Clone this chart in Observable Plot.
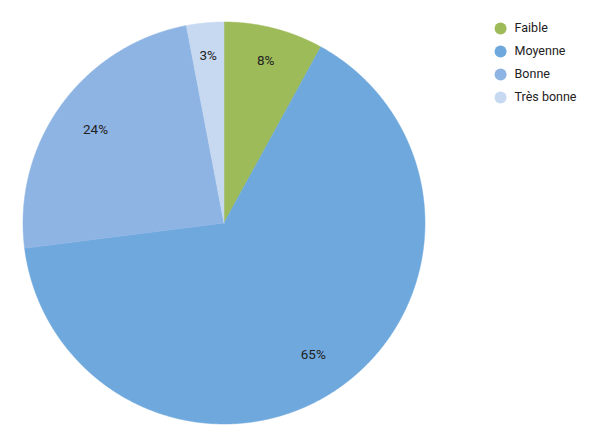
<!DOCTYPE html>
<html>
<head>
<meta charset="utf-8">
<script src="https://cdn.jsdelivr.net/npm/d3@7"></script>
<script src="https://cdn.jsdelivr.net/npm/@observablehq/plot@0.6"></script>
<style>
  html, body { margin: 0; padding: 0; background: #fff; }
  svg { display: block; }
</style>
</head>
<body>
<div id="chart"></div>
<script>
const categories = ["Faible", "Moyenne", "Bonne", "Très bonne"];
const values = [8, 65, 24, 3];
const labels = ["8%", "65%", "24%", "3%"];
const colors = ["#9dbb59", "#6fa8dc", "#8eb4e3", "#c6d9f0"];

const data = categories.map((c, i) => ({category: c, value: values[i], label: labels[i]}));
const arcs = d3.pie().sort(null).value(d => d.value)(data);

// slice polygons in unit-circle data space (y up, angle clockwise from top)
const slicePts = [];
arcs.forEach(a => {
  const cat = a.data.category;
  slicePts.push({category: cat, x: 0, y: 0});
  const n = Math.max(2, Math.ceil((a.endAngle - a.startAngle) / 0.005));
  for (let k = 0; k <= n; k++) {
    const t = a.startAngle + (a.endAngle - a.startAngle) * k / n;
    slicePts.push({category: cat, x: Math.sin(t), y: Math.cos(t)});
  }
  slicePts.push({category: cat, x: 0, y: 0});
});

const labelPts = arcs.map(a => {
  const m = (a.startAngle + a.endAngle) / 2;
  const r = a.data.value < 10 ? 0.835 : 0.79;
  return {label: a.data.label, x: r * Math.sin(m), y: r * Math.cos(m)};
});

// legend placed to the right of the pie, in the same data space
const legendPts = categories.map((c, i) => ({category: c, x: 1.376, y: 0.968 - i * 0.1144}));

const chart = Plot.plot({
  width: 593,
  height: 447,
  marginLeft: 22.5,
  marginRight: 168.5,
  marginTop: 21.5,
  marginBottom: 23.5,
  x: {domain: [-1, 1], axis: null},
  y: {domain: [-1, 1], axis: null},
  color: {domain: categories, range: colors},
  style: {fontFamily: "Roboto, sans-serif", background: "#fff"},
  marks: [
    Plot.line(slicePts, {x: "x", y: "y", z: "category", fill: "category", stroke: "category", strokeWidth: 0.5, curve: "linear"}),
    Plot.text(labelPts, {x: "x", y: "y", text: "label", fontSize: 13.5, fill: "#222"}),
    Plot.dot(legendPts, {x: "x", y: "y", r: 6, fill: "category", stroke: null}),
    Plot.text(legendPts, {x: "x", y: "y", text: "category", dx: 14, textAnchor: "start", fontSize: 12.5, fill: "#222"})
  ]
});
document.getElementById("chart").appendChild(chart);
</script>
</body>
</html>
